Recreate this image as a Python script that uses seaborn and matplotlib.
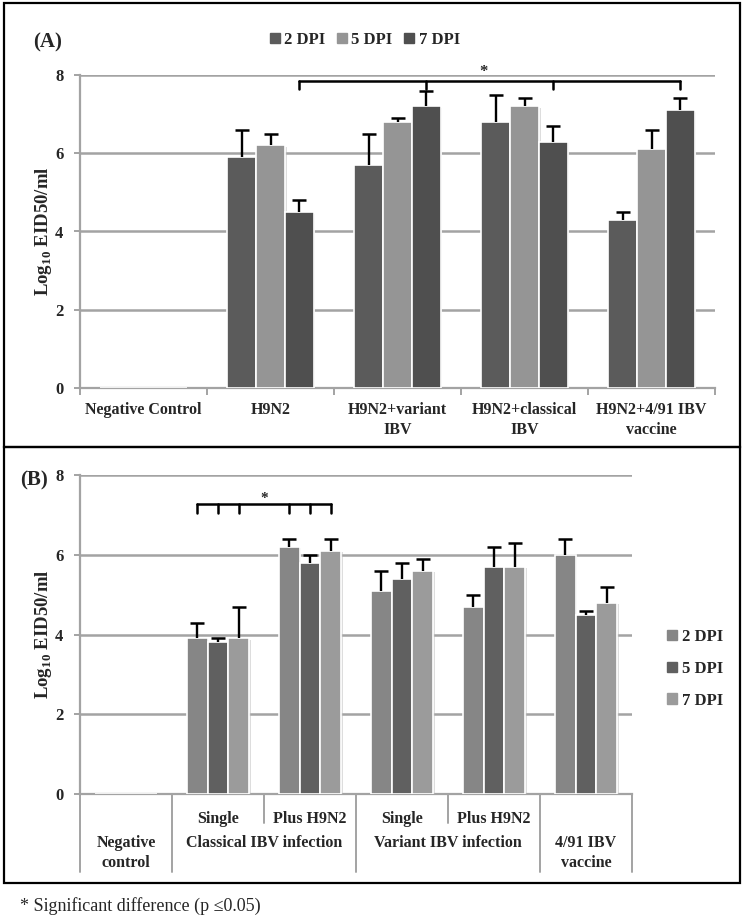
import numpy as np
import pandas as pd
import matplotlib
matplotlib.use("Agg")
import matplotlib.pyplot as plt
import matplotlib.patches as mpatches
import matplotlib.transforms as mtrans
import matplotlib.patheffects as pe
from matplotlib.container import BarContainer
import seaborn as sns

# ---------------- data ----------------
dpi_levels = ["2 DPI", "5 DPI", "7 DPI"]

a_groups = ["Negative Control", "H9N2", "H9N2+variant\nIBV",
            "H9N2+classical\nIBV", "H9N2+4/91 IBV\nvaccine"]
a_2dpi = [0.0, 5.9, 5.7, 6.8, 4.3]
a_5dpi = [0.0, 6.2, 6.8, 7.2, 6.1]
a_7dpi = [0.0, 4.5, 7.2, 6.3, 7.1]
a_err2 = [np.nan, 0.7, 0.8, 0.7, 0.2]
a_err5 = [np.nan, 0.3, 0.1, 0.2, 0.5]
a_err7 = [np.nan, 0.3, 0.4, 0.4, 0.3]

b_groups = ["neg", "cl_single", "cl_plus", "va_single", "va_plus", "vac"]
b_row1 = ["", "Single", "Plus H9N2", "Single", "Plus H9N2", ""]
b_row2 = ["Negative\ncontrol", "Classical IBV infection",
          "Variant IBV infection", "4/91 IBV\nvaccine"]
b_2dpi = [0.0, 3.9, 6.2, 5.1, 4.7, 6.0]
b_5dpi = [0.0, 3.8, 5.8, 5.4, 5.7, 4.5]
b_7dpi = [0.0, 3.9, 6.1, 5.6, 5.7, 4.8]
b_err2 = [np.nan, 0.4, 0.2, 0.5, 0.3, 0.4]
b_err5 = [np.nan, 0.1, 0.2, 0.4, 0.5, 0.1]
b_err7 = [np.nan, 0.8, 0.3, 0.3, 0.6, 0.4]

yticks = [0, 2, 4, 6, 8]

# ---------------- style ----------------
sns.set_theme(style="white")
plt.rcParams["font.family"] = ["Liberation Serif", "DejaVu Serif"]
plt.rcParams["font.weight"] = "bold"
plt.rcParams["mathtext.fontset"] = "custom"
plt.rcParams["mathtext.rm"] = "Liberation Serif:bold"
plt.rcParams["mathtext.bf"] = "Liberation Serif:bold"

W, H = 747, 921
fig = plt.figure(figsize=(W / 100, H / 100), dpi=100)

def fx(px):
    return px / W

def fy(py):
    return 1 - py / H

# panel frames
for (x0, y0, x1, y1) in [(4, 3, 740, 447), (4, 447, 740, 883)]:
    fig.add_artist(mpatches.Rectangle((fx(x0), fy(y1)), fx(x1) - fx(x0), fy(y0) - fy(y1),
                                      transform=fig.transFigure, fill=False,
                                      edgecolor="black", linewidth=1.6))

grid_c = "#a3a3a3"
shadow = [pe.SimplePatchShadow(offset=(1.2, -1.2), shadow_rgbFace="#bdbdbd", alpha=0.5),
          pe.Normal()]

def long_df(groups, v2, v5, v7):
    rows = []
    for lvl, vals in zip(dpi_levels, [v2, v5, v7]):
        for g, v in zip(groups, vals):
            rows.append({"group": g, "dpi": lvl, "value": v})
    return pd.DataFrame(rows)

def bar_containers(ax):
    return [c for c in ax.containers if isinstance(c, BarContainer)]

def style_axis(ax):
    ax.set_ylim(0, 8)
    ax.set_yticks(yticks)
    ax.set_yticklabels([str(t) for t in yticks], fontsize=12, fontweight="bold")
    for y in yticks[1:]:
        ax.axhline(y, color=grid_c, linewidth=1.8, zorder=0)
    for s in ["top", "right"]:
        ax.spines[s].set_visible(False)
    ax.spines["left"].set_color(grid_c)
    ax.spines["left"].set_linewidth(1.6)
    ax.spines["bottom"].set_color(grid_c)
    ax.spines["bottom"].set_linewidth(1.6)
    ax.tick_params(axis="y", length=4, width=1.4, color=grid_c, pad=8, left=True)
    ax.set_ylabel("Log$_{10}$ EID50/ml", fontsize=13.5, fontweight="bold")
    for cont in bar_containers(ax):
        for p in cont.patches:
            if p.get_height() > 0:
                p.set_path_effects(shadow)

def add_errors(ax, errs):
    for cont, err in zip(bar_containers(ax), errs):
        xs, ys, es = [], [], []
        for patch, e in zip(cont.patches, err):
            if np.isnan(e):
                continue
            xs.append(patch.get_x() + patch.get_width() / 2)
            ys.append(patch.get_height())
            es.append(e)
        xs, ys, es = np.array(xs), np.array(ys), np.array(es)
        ax.vlines(xs, ys, ys + es, colors="black", linewidth=1.7, zorder=4)
        ax.plot(xs, ys + es, linestyle="none", marker="_", markersize=10,
                markeredgewidth=1.8, color="black", zorder=4)

# ---------------- Panel A ----------------
axA = fig.add_axes([fx(80), fy(388), fx(715) - fx(80), fy(75) - fy(388)])
dfA = long_df(a_groups, a_2dpi, a_5dpi, a_7dpi)
colsA = ["#5b5b5b", "#959595", "#4f4f4f"]
sns.barplot(data=dfA, x="group", y="value", hue="dpi", order=a_groups,
            hue_order=dpi_levels, palette=colsA,
            width=0.68, edgecolor="white", linewidth=1.2, ax=axA, legend=False,
            errorbar=None, zorder=3)
style_axis(axA)
axA.set_xlim(-0.5, len(a_groups) - 0.5)
axA.set_xlabel("")
axA.set_xticks(np.arange(len(a_groups)))
axA.set_xticklabels(a_groups, fontsize=11.5, fontweight="bold", linespacing=1.35)
axA.tick_params(axis="x", length=0, pad=10)
axA.set_xticks(np.arange(len(a_groups) + 1) - 0.5, minor=True)
axA.tick_params(axis="x", which="minor", length=5, width=1.4, color=grid_c, bottom=True)
axA.yaxis.set_label_coords((54 - 80) / 635, 0.5)
add_errors(axA, [a_err2, a_err5, a_err7])

# legend A (top)
handles = [mpatches.Patch(color=c) for c in colsA]
fig.legend(handles, dpi_levels, loc="center", bbox_to_anchor=(fx(365), fy(40)),
           ncol=3, frameon=False, handlelength=0.6, handleheight=0.6,
           handletextpad=0.25, columnspacing=0.7,
           prop={"family": "Liberation Serif", "weight": "bold", "size": 12})

fig.text(fx(48), fy(42), "(A)", fontsize=15, fontweight="bold", ha="center", va="center")

# significance bracket A (over 7 DPI bars of groups 1-4)
barsA7 = bar_containers(axA)[2].patches
bxs = [barsA7[i].get_x() + barsA7[i].get_width() / 2 for i in range(1, 5)]
by = 7.85
axA.plot([bxs[0], bxs[-1]], [by, by], color="black", linewidth=1.8, clip_on=False, zorder=5)
for x in bxs:
    axA.plot([x, x], [by, by - 0.2], color="black", linewidth=1.8, clip_on=False, zorder=5)
axA.text((bxs[0] + bxs[-1]) / 2 - 0.05, 8.07, "*", ha="center", va="center",
         fontsize=12, fontweight="bold")

# ---------------- Panel B ----------------
axB = fig.add_axes([fx(80), fy(794), fx(632) - fx(80), fy(475) - fy(794)])
dfB = long_df(b_groups, b_2dpi, b_5dpi, b_7dpi)
colsB = ["#868686", "#606060", "#9b9b9b"]
sns.barplot(data=dfB, x="group", y="value", hue="dpi", order=b_groups,
            hue_order=dpi_levels, palette=colsB, width=0.68, edgecolor="white",
            linewidth=1.2, ax=axB, legend=False, errorbar=None, zorder=3)
style_axis(axB)
axB.set_xlim(-0.5, len(b_groups) - 0.5)
axB.set_xlabel("")
axB.set_xticks(np.arange(len(b_groups)))
axB.set_xticklabels(b_row1, fontsize=11.5, fontweight="bold")
axB.tick_params(axis="x", length=0, pad=12)
axB.yaxis.set_label_coords((54 - 80) / 552, 0.5)
add_errors(axB, [b_err2, b_err5, b_err7])

trB = mtrans.blended_transform_factory(axB.transData, axB.transAxes)

def ay(py):
    return (794 - py) / (794 - 475)

full_x = [-0.5, 0.5, 2.5, 4.5, 5.5]
short_x = [1.5, 3.5]
for x in full_x:
    axB.plot([x, x], [0, ay(872)], color=grid_c, linewidth=1.4, transform=trB, clip_on=False)
for x in short_x:
    axB.plot([x, x], [0, ay(823)], color=grid_c, linewidth=1.4, transform=trB, clip_on=False)

row2_x = [0, 1.5, 3.5, 5]
for x, lab in zip(row2_x, b_row2):
    if "\n" in lab:
        axB.text(x, ay(835), lab, transform=trB, ha="center", va="top",
                 fontsize=11.5, fontweight="bold", linespacing=1.3)
    else:
        axB.text(x, ay(843), lab, transform=trB, ha="center", va="center",
                 fontsize=11.5, fontweight="bold")

# bracket B
bx = []
for gi in [1, 2]:
    for cont in bar_containers(axB):
        p = cont.patches[gi]
        bx.append(p.get_x() + p.get_width() / 2)
bx = sorted(bx)
byB = 7.27
axB.plot([bx[0], bx[-1]], [byB, byB], color="black", linewidth=1.8, zorder=5)
for x in bx:
    axB.plot([x, x], [byB, byB - 0.22], color="black", linewidth=1.8, zorder=5)
axB.text((bx[0] + bx[-1]) / 2, 7.42, "*", ha="center", va="center", fontsize=11,
         fontweight="bold")

# legend B (right)
handlesB = [mpatches.Patch(color=c) for c in colsB]
fig.legend(handlesB, dpi_levels, loc="upper left", bbox_to_anchor=(fx(652), fy(614)),
           ncol=1, frameon=False, handlelength=0.6, handleheight=0.6,
           handletextpad=0.3, labelspacing=0.95,
           prop={"family": "Liberation Serif", "weight": "bold", "size": 12})

fig.text(fx(34), fy(480), "(B)", fontsize=15, fontweight="bold", ha="center", va="center")

fig.text(fx(20), fy(906), "* Significant difference (p \u22640.05)", fontsize=13,
         fontweight="normal", ha="left", va="center")

fig.savefig("out.png", dpi=100)
